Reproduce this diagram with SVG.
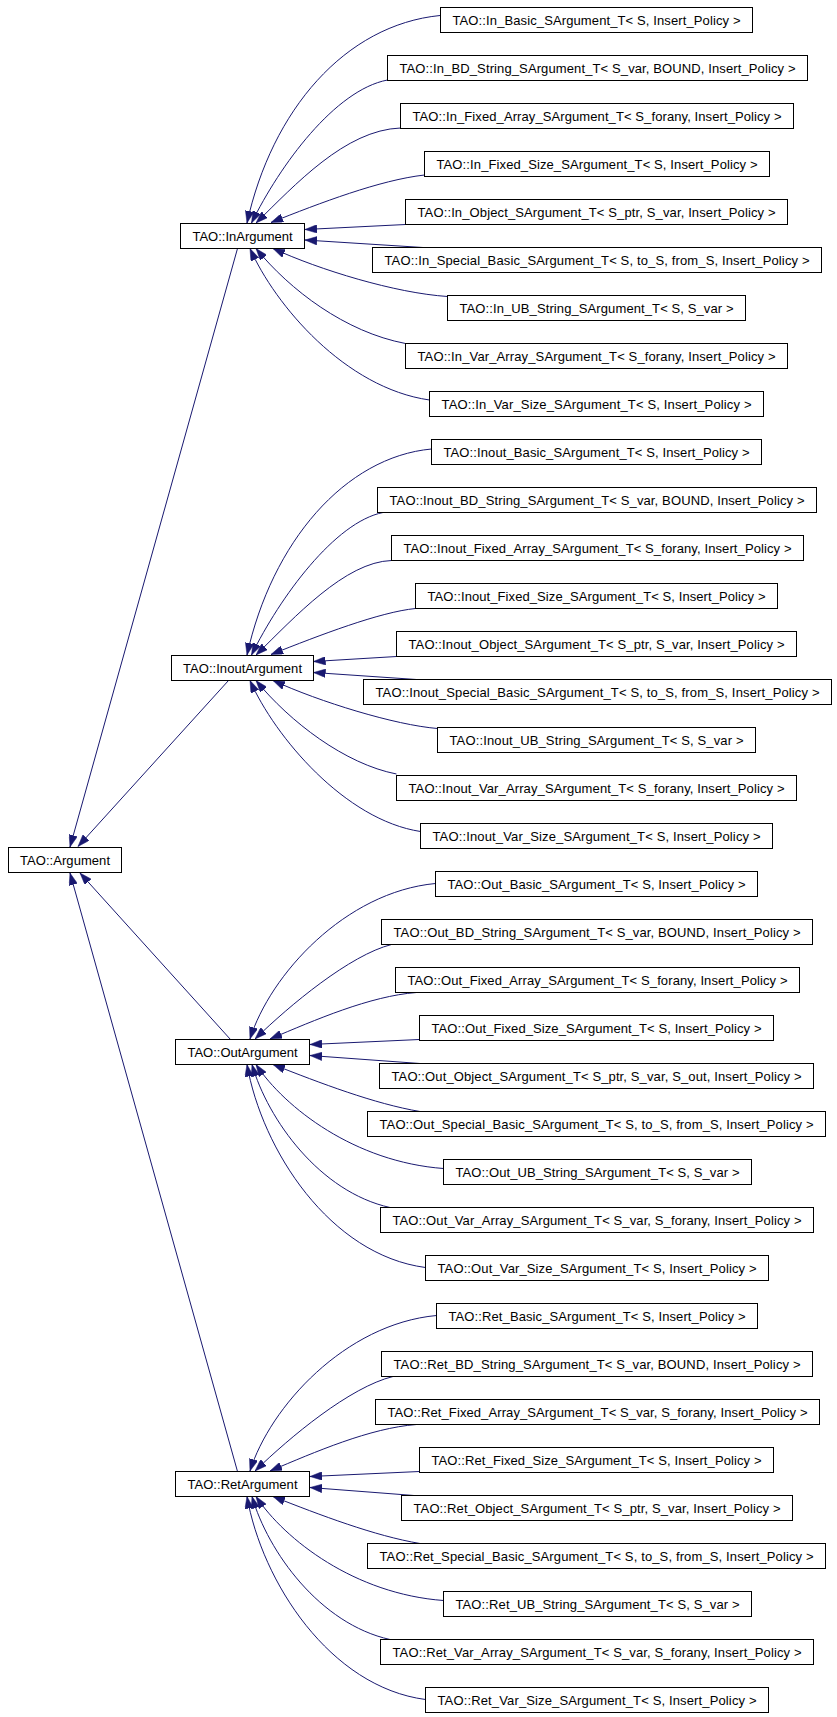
<svg xmlns="http://www.w3.org/2000/svg" width="837" height="1717" viewBox="0 0 837 1717">
<style>
.n rect{fill:#fff;stroke:#000;stroke-width:1}
.n text{font-family:"Liberation Sans",Arial,Helvetica,sans-serif;font-size:13px;fill:#000;text-anchor:middle}
#edges path{fill:none;stroke:#191970;stroke-width:1;marker-end:url(#ah)}
</style>
<defs>
<marker id="ah" markerUnits="userSpaceOnUse" viewBox="0 0 12 8.5" refX="12" refY="4.25" markerWidth="12" markerHeight="8.5" orient="auto">
<path d="M0,0 L12,4.25 L0,8.5 z" fill="#191970" stroke="#191970" stroke-width="0.5"/>
</marker>
</defs>
<rect width="837" height="1717" fill="#fff"/>
<g id="edges">
<path d="M440,15.5 C345,25 272,110 247,223"/>
<path d="M387.5,80 C335,90 280,165 251.5,223"/>
<path d="M400.5,128 C345,130 295,185 256,223"/>
<path d="M424.5,175 C380,180 320,203 271,222.5"/>
<path d="M405.5,224.5 L305,229.5"/>
<path d="M423,247.5 L305,240"/>
<path d="M447.5,296.5 C395,293 320,270 273,248.5"/>
<path d="M405.5,343.5 C345,332 290,290 256,248.5"/>
<path d="M429.5,400 C345,388 275,305 250,248.5"/>

<path d="M431.5,449 C345,457 272,542 247,655"/>
<path d="M383,512.5 C335,522 280,597 251.5,655"/>
<path d="M391.5,560.5 C345,562 295,617 256,655"/>
<path d="M415.5,608.5 C380,612 320,635 271,654.5"/>
<path d="M396.5,656.5 L313.5,661.5"/>
<path d="M416.5,679.5 L313.5,672.5"/>
<path d="M437.5,728.5 C395,725 320,702 273,680.5"/>
<path d="M396.5,774 C345,764 290,722 256,680.5"/>
<path d="M420.5,831.5 C345,820 275,737 250,680.5"/>

<path d="M435.5,883.5 C345,892 270,975 250,1039"/>
<path d="M391.5,944.5 C350,955 290,1005 255,1039"/>
<path d="M416.5,992.5 C370,996 315,1020 270,1039"/>
<path d="M419.5,1039.5 L310,1044.5"/>
<path d="M420,1063.5 L310,1055.5"/>
<path d="M420,1111.5 C375,1104 320,1083 273,1064.5"/>
<path d="M443.5,1168.5 C355,1162 285,1108 256,1064.5"/>
<path d="M390,1207.5 C320,1192 268,1120 252,1064.5"/>
<path d="M425.5,1267.5 C330,1255 262,1150 247,1064.5"/>

<path d="M436.5,1315.5 C345,1324 270,1407 250,1471"/>
<path d="M393,1376.5 C350,1387 290,1437 255,1471"/>
<path d="M416.5,1424.5 C370,1428 315,1452 270,1471"/>
<path d="M419.5,1471.5 L310,1476.5"/>
<path d="M414,1495.5 L310,1487.5"/>
<path d="M420,1543.5 C375,1536 320,1515 273,1496.5"/>
<path d="M443.5,1600.5 C355,1594 285,1540 256,1496.5"/>
<path d="M390,1639.5 C320,1624 268,1552 252,1496.5"/>
<path d="M425.5,1699.5 C330,1687 262,1582 247,1496.5"/>

<path d="M237.5,248.5 L70,847"/>
<path d="M228.5,680.5 L78,846.5"/>
<path d="M230.5,1039.5 L80,873"/>
<path d="M237.5,1471.5 L70,873"/>
</g>

<g id="n_argument" class="n"><rect x="8.5" y="847.5" width="113" height="25"/><text x="65" y="864.5" textLength="90">TAO::Argument</text></g>
<g id="n_inargument" class="n"><rect x="180.5" y="223.5" width="124" height="25"/><text x="242.5" y="240.5" textLength="100">TAO::InArgument</text></g>
<g id="n_inoutargument" class="n"><rect x="171.5" y="655.5" width="142" height="25"/><text x="242.5" y="672.5" textLength="119">TAO::InoutArgument</text></g>
<g id="n_outargument" class="n"><rect x="175.5" y="1039.5" width="134" height="25"/><text x="242.5" y="1056.5" textLength="110">TAO::OutArgument</text></g>
<g id="n_retargument" class="n"><rect x="175.5" y="1471.5" width="134" height="25"/><text x="242.5" y="1488.5" textLength="110">TAO::RetArgument</text></g>

<g id="n_in_basic" class="n"><rect x="440.5" y="7.5" width="312" height="25"/><text x="596.5" y="24.5" textLength="288">TAO::In_Basic_SArgument_T&lt; S, Insert_Policy &gt;</text></g>
<g id="n_in_bd" class="n"><rect x="387.5" y="55.5" width="420" height="25"/><text x="597.5" y="72.5" textLength="396">TAO::In_BD_String_SArgument_T&lt; S_var, BOUND, Insert_Policy &gt;</text></g>
<g id="n_in_fixarr" class="n"><rect x="400.5" y="103.5" width="393" height="25"/><text x="597" y="120.5" textLength="369">TAO::In_Fixed_Array_SArgument_T&lt; S_forany, Insert_Policy &gt;</text></g>
<g id="n_in_fixsize" class="n"><rect x="424.5" y="151.5" width="345" height="25"/><text x="597" y="168.5" textLength="321">TAO::In_Fixed_Size_SArgument_T&lt; S, Insert_Policy &gt;</text></g>
<g id="n_in_object" class="n"><rect x="405.5" y="199.5" width="382" height="25"/><text x="596.5" y="216.5" textLength="358">TAO::In_Object_SArgument_T&lt; S_ptr, S_var, Insert_Policy &gt;</text></g>
<g id="n_in_special" class="n"><rect x="372.5" y="247.5" width="449" height="25"/><text x="597" y="264.5" textLength="425">TAO::In_Special_Basic_SArgument_T&lt; S, to_S, from_S, Insert_Policy &gt;</text></g>
<g id="n_in_ub" class="n"><rect x="447.5" y="295.5" width="298" height="25"/><text x="596.5" y="312.5" textLength="274">TAO::In_UB_String_SArgument_T&lt; S, S_var &gt;</text></g>
<g id="n_in_vararr" class="n"><rect x="405.5" y="343.5" width="382" height="25"/><text x="596.5" y="360.5" textLength="358">TAO::In_Var_Array_SArgument_T&lt; S_forany, Insert_Policy &gt;</text></g>
<g id="n_in_varsize" class="n"><rect x="429.5" y="391.5" width="334" height="25"/><text x="596.5" y="408.5" textLength="310">TAO::In_Var_Size_SArgument_T&lt; S, Insert_Policy &gt;</text></g>

<g id="n_inout_basic" class="n"><rect x="431.5" y="439.5" width="330" height="25"/><text x="596.5" y="456.5" textLength="306">TAO::Inout_Basic_SArgument_T&lt; S, Insert_Policy &gt;</text></g>
<g id="n_inout_bd" class="n"><rect x="377.5" y="487.5" width="439" height="25"/><text x="597" y="504.5" textLength="415">TAO::Inout_BD_String_SArgument_T&lt; S_var, BOUND, Insert_Policy &gt;</text></g>
<g id="n_inout_fixarr" class="n"><rect x="391.5" y="535.5" width="412" height="25"/><text x="597.5" y="552.5" textLength="388">TAO::Inout_Fixed_Array_SArgument_T&lt; S_forany, Insert_Policy &gt;</text></g>
<g id="n_inout_fixsize" class="n"><rect x="415.5" y="583.5" width="362" height="25"/><text x="596.5" y="600.5" textLength="338">TAO::Inout_Fixed_Size_SArgument_T&lt; S, Insert_Policy &gt;</text></g>
<g id="n_inout_object" class="n"><rect x="396.5" y="631.5" width="400" height="25"/><text x="596.5" y="648.5" textLength="376">TAO::Inout_Object_SArgument_T&lt; S_ptr, S_var, Insert_Policy &gt;</text></g>
<g id="n_inout_special" class="n"><rect x="363.5" y="679.5" width="468" height="25"/><text x="597.5" y="696.5" textLength="444">TAO::Inout_Special_Basic_SArgument_T&lt; S, to_S, from_S, Insert_Policy &gt;</text></g>
<g id="n_inout_ub" class="n"><rect x="437.5" y="727.5" width="318" height="25"/><text x="596.5" y="744.5" textLength="294">TAO::Inout_UB_String_SArgument_T&lt; S, S_var &gt;</text></g>
<g id="n_inout_vararr" class="n"><rect x="396.5" y="775.5" width="400" height="25"/><text x="596.5" y="792.5" textLength="376">TAO::Inout_Var_Array_SArgument_T&lt; S_forany, Insert_Policy &gt;</text></g>
<g id="n_inout_varsize" class="n"><rect x="420.5" y="823.5" width="352" height="25"/><text x="596.5" y="840.5" textLength="328">TAO::Inout_Var_Size_SArgument_T&lt; S, Insert_Policy &gt;</text></g>

<g id="n_out_basic" class="n"><rect x="435.5" y="871.5" width="322" height="25"/><text x="596.5" y="888.5" textLength="298">TAO::Out_Basic_SArgument_T&lt; S, Insert_Policy &gt;</text></g>
<g id="n_out_bd" class="n"><rect x="381.5" y="919.5" width="431" height="25"/><text x="597" y="936.5" textLength="407">TAO::Out_BD_String_SArgument_T&lt; S_var, BOUND, Insert_Policy &gt;</text></g>
<g id="n_out_fixarr" class="n"><rect x="395.5" y="967.5" width="404" height="25"/><text x="597.5" y="984.5" textLength="380">TAO::Out_Fixed_Array_SArgument_T&lt; S_forany, Insert_Policy &gt;</text></g>
<g id="n_out_fixsize" class="n"><rect x="419.5" y="1015.5" width="354" height="25"/><text x="596.5" y="1032.5" textLength="330">TAO::Out_Fixed_Size_SArgument_T&lt; S, Insert_Policy &gt;</text></g>
<g id="n_out_object" class="n"><rect x="379.5" y="1063.5" width="434" height="25"/><text x="596.5" y="1080.5" textLength="410">TAO::Out_Object_SArgument_T&lt; S_ptr, S_var, S_out, Insert_Policy &gt;</text></g>
<g id="n_out_special" class="n"><rect x="367.5" y="1111.5" width="458" height="25"/><text x="596.5" y="1128.5" textLength="434">TAO::Out_Special_Basic_SArgument_T&lt; S, to_S, from_S, Insert_Policy &gt;</text></g>
<g id="n_out_ub" class="n"><rect x="443.5" y="1159.5" width="308" height="25"/><text x="597.5" y="1176.5" textLength="284">TAO::Out_UB_String_SArgument_T&lt; S, S_var &gt;</text></g>
<g id="n_out_vararr" class="n"><rect x="380.5" y="1207.5" width="433" height="25"/><text x="597" y="1224.5" textLength="409">TAO::Out_Var_Array_SArgument_T&lt; S_var, S_forany, Insert_Policy &gt;</text></g>
<g id="n_out_varsize" class="n"><rect x="425.5" y="1255.5" width="343" height="25"/><text x="597" y="1272.5" textLength="319">TAO::Out_Var_Size_SArgument_T&lt; S, Insert_Policy &gt;</text></g>

<g id="n_ret_basic" class="n"><rect x="436.5" y="1303.5" width="321" height="25"/><text x="597" y="1320.5" textLength="297">TAO::Ret_Basic_SArgument_T&lt; S, Insert_Policy &gt;</text></g>
<g id="n_ret_bd" class="n"><rect x="381.5" y="1351.5" width="431" height="25"/><text x="597" y="1368.5" textLength="407">TAO::Ret_BD_String_SArgument_T&lt; S_var, BOUND, Insert_Policy &gt;</text></g>
<g id="n_ret_fixarr" class="n"><rect x="375.5" y="1399.5" width="444" height="25"/><text x="597.5" y="1416.5" textLength="420">TAO::Ret_Fixed_Array_SArgument_T&lt; S_var, S_forany, Insert_Policy &gt;</text></g>
<g id="n_ret_fixsize" class="n"><rect x="419.5" y="1447.5" width="354" height="25"/><text x="596.5" y="1464.5" textLength="330">TAO::Ret_Fixed_Size_SArgument_T&lt; S, Insert_Policy &gt;</text></g>
<g id="n_ret_object" class="n"><rect x="401.5" y="1495.5" width="391" height="25"/><text x="597" y="1512.5" textLength="367">TAO::Ret_Object_SArgument_T&lt; S_ptr, S_var, Insert_Policy &gt;</text></g>
<g id="n_ret_special" class="n"><rect x="367.5" y="1543.5" width="458" height="25"/><text x="596.5" y="1560.5" textLength="434">TAO::Ret_Special_Basic_SArgument_T&lt; S, to_S, from_S, Insert_Policy &gt;</text></g>
<g id="n_ret_ub" class="n"><rect x="443.5" y="1591.5" width="308" height="25"/><text x="597.5" y="1608.5" textLength="284">TAO::Ret_UB_String_SArgument_T&lt; S, S_var &gt;</text></g>
<g id="n_ret_vararr" class="n"><rect x="380.5" y="1639.5" width="433" height="25"/><text x="597" y="1656.5" textLength="409">TAO::Ret_Var_Array_SArgument_T&lt; S_var, S_forany, Insert_Policy &gt;</text></g>
<g id="n_ret_varsize" class="n"><rect x="425.5" y="1687.5" width="343" height="25"/><text x="597" y="1704.5" textLength="319">TAO::Ret_Var_Size_SArgument_T&lt; S, Insert_Policy &gt;</text></g>
</svg>
